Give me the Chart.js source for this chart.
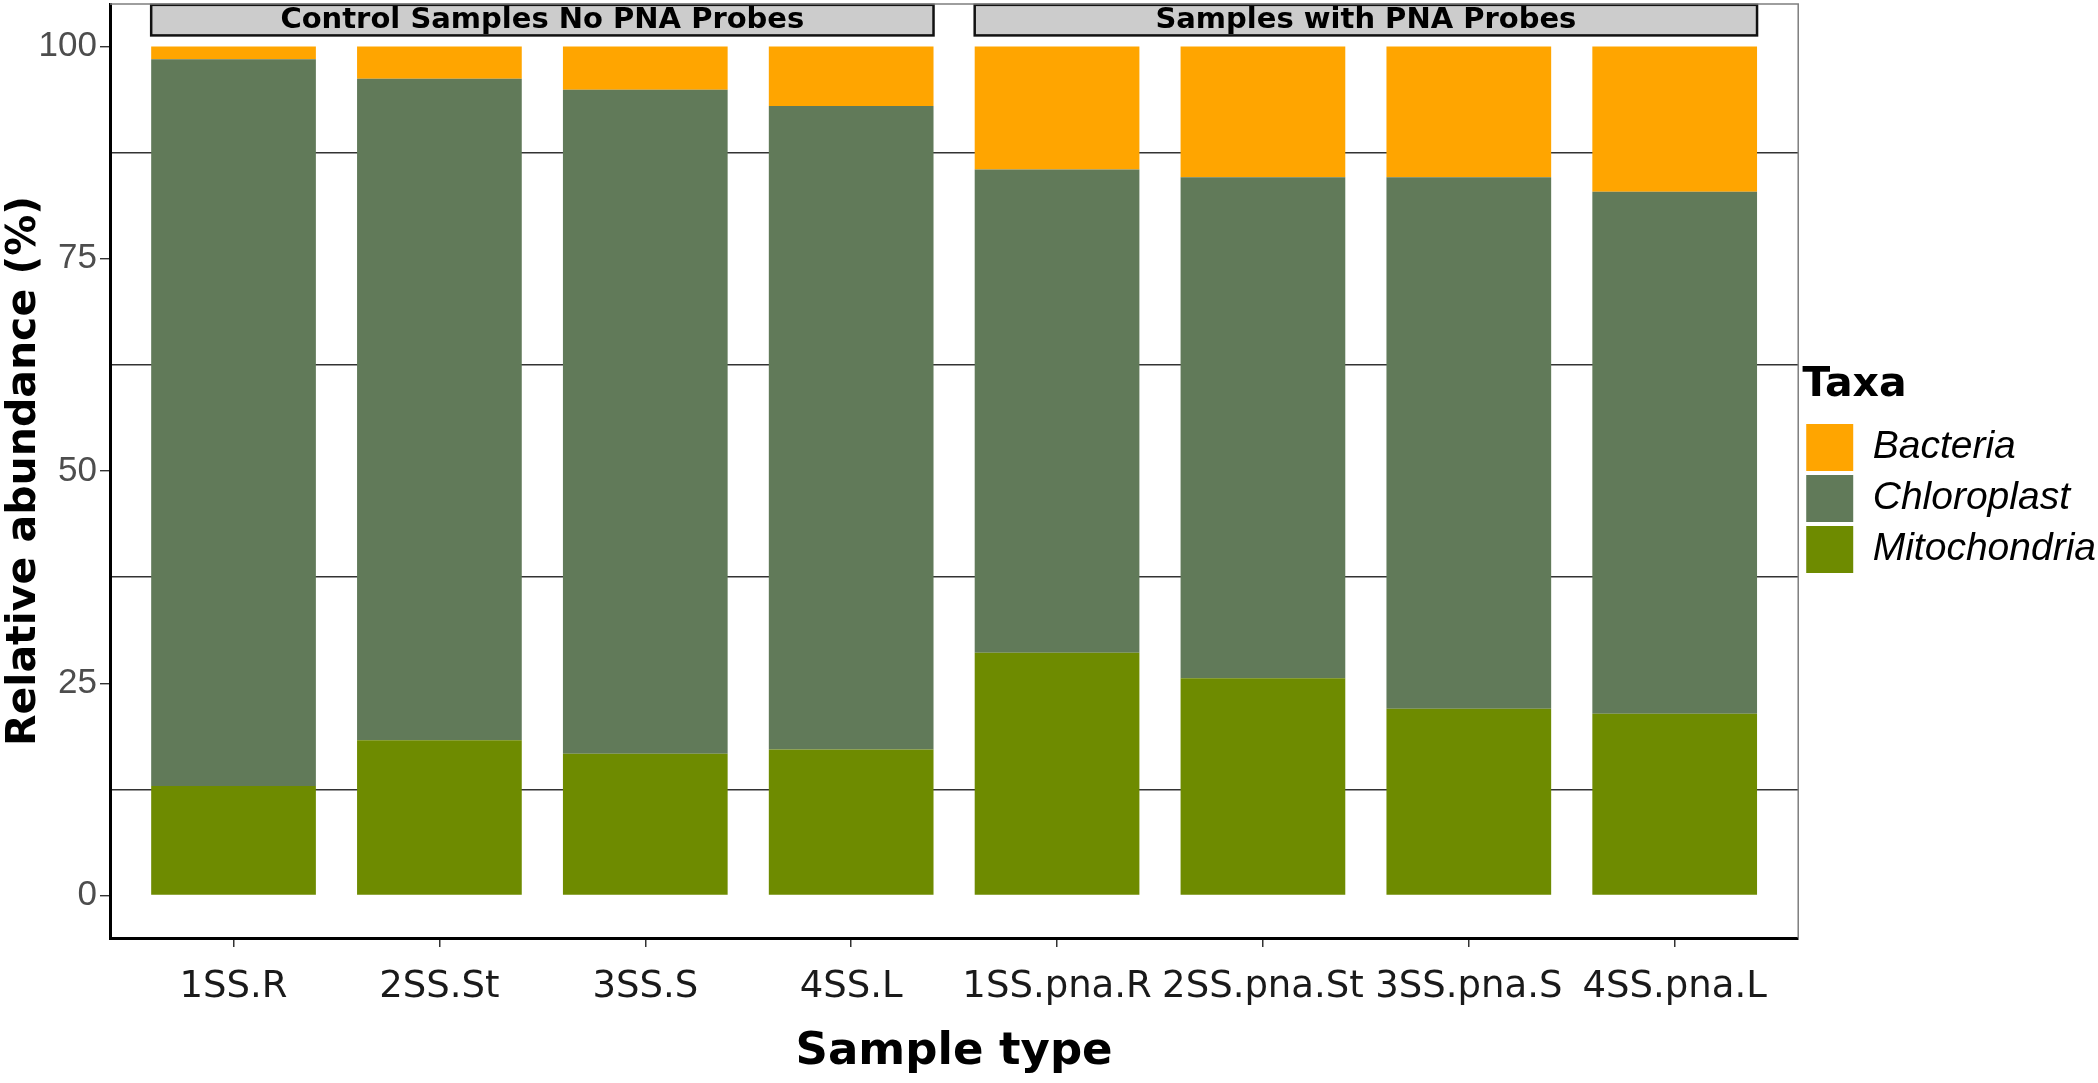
<!DOCTYPE html>
<html lang="en">
<head>
    <meta charset="UTF-8">
    <title>Relative abundance by sample type</title>
    <script src="https://cdn.jsdelivr.net/npm/chart.js"></script>
    <style>
        html, body { margin: 0; padding: 0; background: #fff; }
        #wrap { width: 2098px; height: 1083px; }
    </style>
</head>
<body>
<div id="wrap"><canvas id="taxaChart"></canvas></div>

<script>
        // values (percent, stacked bottom to top)
        const samples = ['1SS.R', '2SS.St', '3SS.S', '4SS.L', '1SS.pna.R', '2SS.pna.St', '3SS.pna.S', '4SS.pna.L'];
        const mitochondria = [12.9, 18.3, 16.7, 17.2, 28.6, 25.6, 22.0, 21.4];
        const chloroplast = [85.6, 77.9, 78.2, 75.8, 56.9, 59.0, 62.6, 61.5];
        const bacteria = [1.5, 3.8, 5.1, 7.0, 14.5, 15.4, 15.4, 17.1];
        const yTicks = [0, 12.5, 25, 37.5, 50, 62.5, 75, 87.5, 100];

        // strip boxes over groups of bars
        const groupNames = ['Control Samples No PNA Probes', 'Samples with PNA Probes'];
        const groupFirst = [0, 4];
        const groupLast = [3, 7];

        const toPoints = arr => arr.map((v, i) => ({ x: i, y: v }));

        const stripPlugin = {
            id: 'strips',
            afterLayout(chart) {
                // small gap between panel and legend, like the original
                chart.legend.left += 4;
                chart.legend.right += 4;
            },
            afterDatasetsDraw(chart) {
                const ctx = chart.ctx;
                const xs = chart.scales.x, ys = chart.scales.y;
                const top = ys.getPixelForValue(104.9), bottom = ys.getPixelForValue(101.3);
                ctx.save();
                groupNames.forEach((name, g) => {
                    const left = xs.getPixelForValue(groupFirst[g] - 0.4);
                    const right = xs.getPixelForValue(groupLast[g] + 0.4);
                    ctx.fillStyle = '#cccccc';
                    ctx.fillRect(left, top, right - left, bottom - top);
                    ctx.fillStyle = '#000';
                    ctx.font = 'bold 29px "DejaVu Sans"';
                    ctx.textAlign = 'center';
                    ctx.textBaseline = 'alphabetic';
                    ctx.fillText(name, (left + right) / 2, bottom - 7);
                    ctx.strokeStyle = '#111';
                    ctx.lineWidth = 2.5;
                    ctx.strokeRect(left, top, right - left, bottom - top);
                });
                // thin panel border on top and right
                const a = chart.chartArea;
                ctx.strokeStyle = '#7f7f7f';
                ctx.lineWidth = 1.5;
                ctx.beginPath();
                ctx.moveTo(a.left, a.top);
                ctx.lineTo(a.right, a.top);
                ctx.lineTo(a.right, a.bottom);
                ctx.stroke();
                ctx.restore();
            }
        };

        const ctx = document.getElementById('taxaChart').getContext('2d');

        let taxaChart = new Chart(ctx, {
            type: 'bar',
            data: {
                datasets: [{
                    label: 'Mitochondria',
                    data: toPoints(mitochondria),
                    backgroundColor: '#6e8b00'
                }, {
                    label: 'Chloroplast',
                    data: toPoints(chloroplast),
                    backgroundColor: '#617a59'
                }, {
                    label: 'Bacteria',
                    data: toPoints(bacteria),
                    backgroundColor: '#ffa500'
                }]
            },
            plugins: [stripPlugin],
            options: {
                responsive: true,
                maintainAspectRatio: false,
                animation: false,
                barPercentage: 0.8,
                categoryPercentage: 1.0,
                layout: { padding: { top: 4, right: -4, bottom: 4, left: 0 } },
                plugins: {
                    tooltip: { enabled: false },
                    legend: {
                        position: 'right',
                        fullSize: false,
                        reverse: true,
                        title: {
                            display: true,
                            text: 'Taxa',
                            position: 'start',
                            color: '#000',
                            font: { family: 'DejaVu Sans', weight: 'bold', size: 41 },
                            padding: { top: 0, bottom: 6 }
                        },
                        labels: {
                            boxWidth: 47,
                            boxHeight: 47,
                            padding: 4,
                            color: '#000',
                            font: { family: 'Liberation Sans', style: 'italic', size: 39 }
                        }
                    }
                },
                scales: {
                    x: {
                        type: 'linear',
                        stacked: true,
                        offset: false,
                        min: -0.6,
                        max: 7.6,
                        afterBuildTicks: s => { s.ticks = samples.map((c, i) => ({ value: i })); },
                        afterFit: s => { s.height = 141; s.paddingLeft = 0; s.paddingRight = 0; },
                        ticks: {
                            autoSkip: false,
                            maxRotation: 0,
                            padding: 18,
                            color: '#1a1a1a',
                            font: { family: 'DejaVu Sans', size: 37 },
                            callback: v => samples[v]
                        },
                        grid: {
                            offset: false,
                            drawOnChartArea: false,
                            tickLength: 9,
                            tickColor: '#333',
                            lineWidth: 1.5
                        },
                        border: { color: '#000', width: 3 },
                        title: {
                            display: true,
                            text: 'Sample type',
                            color: '#000',
                            font: { family: 'DejaVu Sans', weight: 'bold', size: 45 },
                            padding: { top: 2, bottom: 0 }
                        }
                    },
                    y: {
                        stacked: true,
                        min: -5,
                        max: 105,
                        afterBuildTicks: s => { s.ticks = yTicks.map(v => ({ value: v })); },
                        afterFit: s => { s.width = 110; s.paddingTop = 0; s.paddingBottom = 0; },
                        ticks: {
                            autoSkip: false,
                            padding: 3,
                            color: '#4d4d4d',
                            font: { family: 'Liberation Sans', size: 35 },
                            callback: v => (v % 25 === 0 ? v : '')
                        },
                        grid: {
                            color: c => (c.tick && c.tick.value % 25 !== 0 ? '#333' : 'rgba(0,0,0,0)'),
                            tickColor: c => (c.tick && c.tick.value % 25 === 0 ? '#333' : 'rgba(0,0,0,0)'),
                            lineWidth: 1.4,
                            tickLength: 10
                        },
                        border: { color: '#000', width: 3 },
                        title: {
                            display: true,
                            text: 'Relative abundance (%)',
                            color: '#000',
                            font: { family: 'DejaVu Sans', weight: 'bold', size: 41 },
                            padding: { top: 0, bottom: 0 }
                        }
                    }
                }
            }
        });
    </script>
</body>
</html>
